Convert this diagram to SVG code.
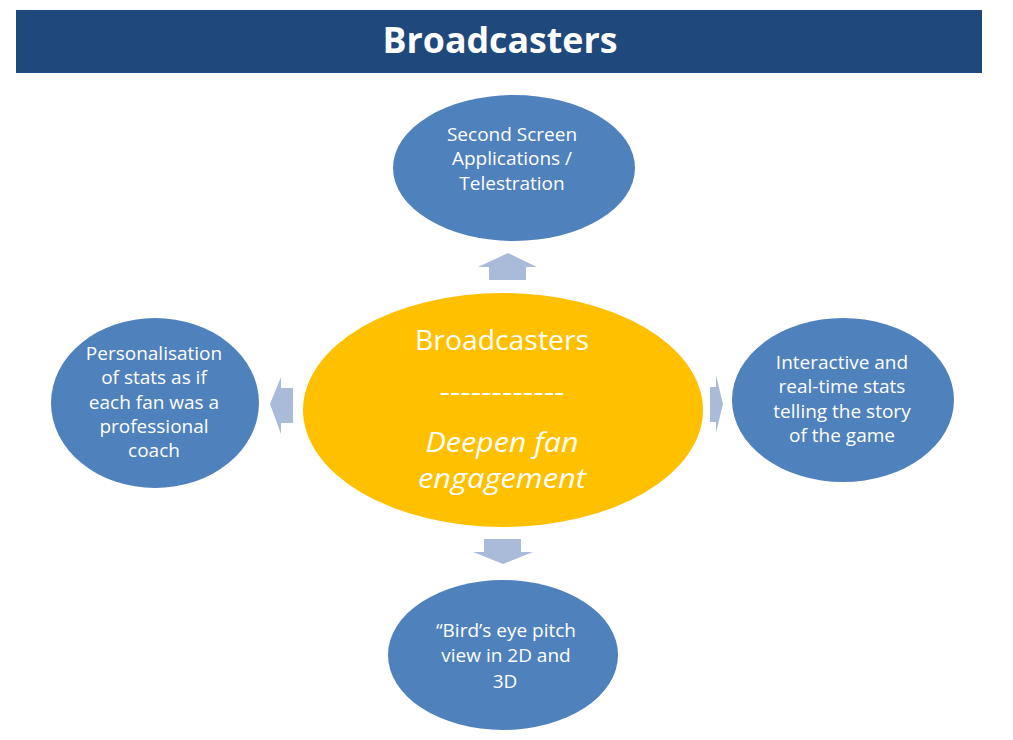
<svg xmlns="http://www.w3.org/2000/svg" width="1013" height="740" viewBox="0 0 1013 740">
<style>
.blue{fill:#4F81BD;}
.core{fill:#FFC000;}
.arrow{fill:#AABBD9;}
.t{font-family:"Open Sans","Liberation Sans",sans-serif;font-size:19px;fill:#FFFFFF;text-anchor:middle;}
.c{font-family:"Open Sans","Liberation Sans",sans-serif;font-size:28px;fill:#FFFFFF;text-anchor:middle;}
.ci{font-family:"Open Sans","Liberation Sans",sans-serif;font-size:28px;font-style:italic;fill:#FFFFFF;text-anchor:middle;}
.h{font-family:"Open Sans","Liberation Sans",sans-serif;font-size:35px;font-weight:bold;fill:#FFFFFF;text-anchor:middle;}
</style>
<rect width="1013" height="740" fill="#FFFFFF"/>
<g id="header">
<rect x="16" y="10" width="966" height="63" fill="#1F497D"/>
<text class="h" x="500" y="53" textLength="235" lengthAdjust="spacingAndGlyphs">Broadcasters</text>
</g>
<g id="connectors">
<polygon class="arrow" points="508,253 537,267 526,267 526,280 489,280 489,267 478,267"/>
<polygon class="arrow" points="484,539 521,539 521,552 533,552 503,564 473,552 484,552"/>
<polygon class="arrow" points="270,404 281,377 281,388 293,388 293,423 281,423 281,434"/>
<polygon class="arrow" points="710,387 716,387 716,375 723,404 716,433 716,422 710,422"/>
</g>
<g id="center">
<ellipse class="core" cx="503" cy="410" rx="200" ry="117"/>
<text class="c" x="502" y="350" textLength="174" lengthAdjust="spacingAndGlyphs">Broadcasters</text>
<text class="c" x="502" y="401" textLength="125" lengthAdjust="spacingAndGlyphs">------------</text>
<text class="ci" x="502" y="452" textLength="153" lengthAdjust="spacingAndGlyphs">Deepen fan</text>
<text class="ci" x="502" y="488" textLength="168" lengthAdjust="spacingAndGlyphs">engagement</text>
</g>
<g id="top">
<ellipse class="blue" cx="514" cy="168" rx="121" ry="73"/>
<text class="t" x="512" y="141">Second Screen</text>
<text class="t" x="512" y="165">Applications /</text>
<text class="t" x="512" y="190">Telestration</text>
</g>
<g id="left">
<ellipse class="blue" cx="155" cy="403" rx="104" ry="85"/>
<text class="t" x="154" y="360">Personalisation</text>
<text class="t" x="154" y="384">of stats as if</text>
<text class="t" x="154" y="409">each fan was a</text>
<text class="t" x="154" y="433">professional</text>
<text class="t" x="154" y="457">coach</text>
</g>
<g id="right">
<ellipse class="blue" cx="843" cy="400" rx="111" ry="82"/>
<text class="t" x="842" y="369">Interactive and</text>
<text class="t" x="842" y="393">real-time stats</text>
<text class="t" x="842" y="418">telling the story</text>
<text class="t" x="842" y="442">of the game</text>
</g>
<g id="bottom">
<ellipse class="blue" cx="503" cy="655" rx="115" ry="75"/>
<text class="t" x="506" y="637">“Bird’s eye pitch</text>
<text class="t" x="506" y="662">view in 2D and</text>
<text class="t" x="505" y="688">3D</text>
</g>
</svg>
